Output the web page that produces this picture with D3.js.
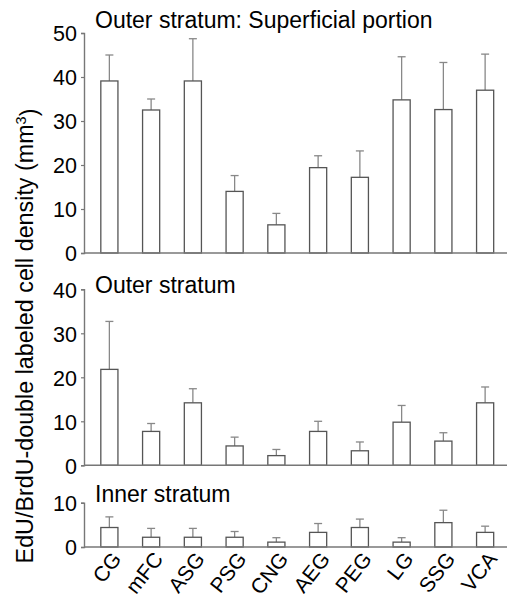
<!DOCTYPE html>
<html lang="en">
<head>
    <meta charset="UTF-8">
    <title>EdU/BrdU double labeled cell density</title>
    <style>
        *{
            margin: 0;
            padding: 0;
        }
        body{
            background: #fff;
        }
        svg text{
            font-family: "Liberation Sans", Arial, sans-serif;
            fill: #000;
        }
    </style>
</head>
<body>
<div id="myBar"></div>
<script src="https://cdn.jsdelivr.net/npm/d3@7/dist/d3.min.js"></script>
<script>
    /*脑区名称*/
    var regions = ["CG", "mFC", "ASG", "PSG", "CNG", "AEG", "PEG", "LG", "SSG", "VCA"];

    /*三个面板的均值与误差上限*/
    var superMean = [39.1, 32.5, 39.1, 14.0, 6.4, 19.4, 17.2, 34.8, 32.6, 37.0];
    var superTop  = [45.0, 35.0, 48.7, 17.6, 9.0, 22.1, 23.2, 44.6, 43.3, 45.2];

    var outerMean = [21.8, 7.7, 14.2, 4.4, 2.2, 7.7, 3.3, 9.8, 5.5, 14.2];
    var outerTop  = [32.7, 9.5, 17.4, 6.4, 3.6, 10.0, 5.3, 13.6, 7.4, 17.8];

    var innerMean = [4.4, 2.2, 2.2, 2.2, 1.1, 3.3, 4.4, 1.1, 5.5, 3.3];
    var innerTop  = [6.8, 4.2, 4.2, 3.5, 2.1, 5.3, 6.3, 2.1, 8.3, 4.7];

    var superTicks = [0, 10, 20, 30, 40, 50];
    var outerTicks = [0, 10, 20, 30, 40];
    var innerTicks = [0, 10];

    var width = 507, height = 594;
    var axisX = 84;

    var svg = d3.select("#myBar").append("svg")
        .attr("width", width)
        .attr("height", height);

    var band = d3.scaleBand()
        .domain(regions)
        .range([88.5, 506])
        .paddingInner(0.59)
        .paddingOuter(0.295);

    var panels = [
        {title: "Outer stratum: Superficial portion", mean: superMean, top: superTop, ticks: superTicks, max: 50, y0: 253, y1: 33, ty: 28},
        {title: "Outer stratum", mean: outerMean, top: outerTop, ticks: outerTicks, max: 40, y0: 465.3, y1: 289.3, ty: 293},
        {title: "Inner stratum", mean: innerMean, top: innerTop, ticks: innerTicks, max: 10, y0: 547, y1: 502.7, ty: 502}
    ];

    panels.forEach(function (p) {
        var y = d3.scaleLinear().domain([0, p.max]).range([p.y0, p.y1]);
        var g = svg.append("g");

        /*y轴*/
        var yAxis = g.append("g")
            .attr("transform", "translate(" + axisX + ",0)")
            .call(d3.axisLeft(y).tickValues(p.ticks).tickSize(3).tickPadding(4));
        yAxis.select(".domain").attr("stroke", "#777").attr("stroke-width", 1.4);
        yAxis.selectAll(".tick line").attr("stroke", "#777").attr("stroke-width", 1.2);
        yAxis.selectAll(".tick text")
            .style("font-size", "21.5px")
            .attr("dy", "0.36em");

        /*误差线*/
        var data = regions.map(function (r, i) {
            return {name: r, mean: p.mean[i], top: p.top[i]};
        });
        g.selectAll(".err")
            .data(data)
            .enter()
            .append("line")
            .attr("x1", function (d) { return band(d.name) + band.bandwidth() / 2; })
            .attr("x2", function (d) { return band(d.name) + band.bandwidth() / 2; })
            .attr("y1", function (d) { return y(d.mean); })
            .attr("y2", function (d) { return y(d.top); })
            .attr("stroke", "#888")
            .attr("stroke-width", 1.3);
        g.selectAll(".cap")
            .data(data)
            .enter()
            .append("line")
            .attr("x1", function (d) { return band(d.name) + band.bandwidth() / 2 - 4; })
            .attr("x2", function (d) { return band(d.name) + band.bandwidth() / 2 + 4; })
            .attr("y1", function (d) { return y(d.top); })
            .attr("y2", function (d) { return y(d.top); })
            .attr("stroke", "#888")
            .attr("stroke-width", 1.3);

        /*柱*/
        g.selectAll(".bar")
            .data(data)
            .enter()
            .append("rect")
            .attr("x", function (d) { return band(d.name); })
            .attr("y", function (d) { return y(d.mean); })
            .attr("width", band.bandwidth())
            .attr("height", function (d) { return y(0) - y(d.mean); })
            .attr("fill", "#fff")
            .attr("stroke", "#555")
            .attr("stroke-width", 1.3);

        /*x轴线*/
        g.append("line")
            .attr("x1", axisX)
            .attr("x2", width)
            .attr("y1", y(0))
            .attr("y2", y(0))
            .attr("stroke", "#777")
            .attr("stroke-width", 1.4);

        /*标题*/
        g.append("text")
            .attr("x", 95)
            .attr("y", p.ty)
            .style("font-size", "23px")
            .text(p.title);
    });

    /*x轴标签*/
    svg.append("g").selectAll(".xl")
        .data(regions)
        .enter()
        .append("text")
        .attr("transform", function (d) {
            return "translate(" + (band(d) + band.bandwidth() / 2 + 1) + ",550) rotate(-52)";
        })
        .attr("text-anchor", "end")
        .attr("dy", "0.72em")
        .style("font-size", "21px")
        .text(function (d) { return d; });

    /*y轴标题*/
    var yt = svg.append("text")
        .attr("transform", "translate(33,336) rotate(-90)")
        .attr("text-anchor", "middle")
        .style("font-size", "23.3px");
    yt.append("tspan").text("EdU/BrdU-double labeled cell density (mm");
    yt.append("tspan").attr("dy", "-0.45em").style("font-size", "14.5px").text("3");
    yt.append("tspan").attr("dy", "0.45em").text(")");
</script>
</body>
</html>
